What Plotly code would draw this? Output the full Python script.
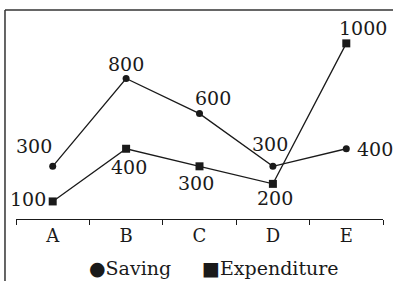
import plotly.graph_objects as go

categories = ["A", "B", "C", "D", "E"]
saving = [300, 800, 600, 300, 400]
expenditure = [100, 400, 300, 200, 1000]

# label offsets from each point, in pixels (dx right, dy down)
saving_off = [(-19, -20), (0, -15), (13, -16), (-3, -22), (29, 0)]
exp_off = [(-25, -2), (3, 18), (-4, 17), (2, 14), (17, -15)]

FONT = "DejaVu Serif"
INK = "#1a1a1a"

fig = go.Figure()
fig.add_trace(go.Scatter(
    x=categories, y=saving, mode="lines+markers", name="Saving",
    line=dict(color=INK, width=1.3),
    marker=dict(symbol="circle", size=7, color=INK),
    cliponaxis=False,
))
fig.add_trace(go.Scatter(
    x=categories, y=expenditure, mode="lines+markers", name="Expenditure",
    line=dict(color=INK, width=1.3),
    marker=dict(symbol="square", size=8, color=INK),
    cliponaxis=False,
))

annotations = []
for series, offs in ((saving, saving_off), (expenditure, exp_off)):
    for c, v, (dx, dy) in zip(categories, series, offs):
        annotations.append(dict(
            x=c, y=v, xref="x", yref="y", text=str(v), showarrow=False,
            xanchor="center", yanchor="middle", xshift=dx, yshift=-dy,
            font=dict(family=FONT, size=19, color=INK),
        ))

annotations += [
    dict(xref="paper", yref="paper", x=0.1935, y=-0.234, xanchor="left", yanchor="middle",
         text="●Saving", showarrow=False, font=dict(family=FONT, size=19, color=INK)),
    dict(xref="paper", yref="paper", x=0.5014, y=-0.234, xanchor="left", yanchor="middle",
         text="■Expenditure", showarrow=False, font=dict(family=FONT, size=19, color=INK)),
]

fig.update_layout(
    width=393, height=281,
    margin=dict(l=16, r=10, t=10, b=62),
    paper_bgcolor="white", plot_bgcolor="white",
    showlegend=False,
    font=dict(family=FONT, size=18, color=INK),
    xaxis=dict(
        type="category", categoryorder="array", categoryarray=categories,
        range=[-0.5, 4.5], showline=True, linecolor=INK, linewidth=1.3,
        ticks="outside", tickson="boundaries", ticklen=5, tickcolor=INK, tickwidth=1.3,
        showgrid=False, zeroline=False,
        tickfont=dict(family=FONT, size=18, color=INK),
    ),
    yaxis=dict(range=[0, 1190], visible=False, showgrid=False, zeroline=False),
    shapes=[
        dict(type="line", xref="paper", yref="paper", x0=-0.030, x1=1.03, y0=1.0, y1=1.0,
             line=dict(color="#333", width=1.5)),
        dict(type="line", xref="paper", yref="paper", x0=-0.030, x1=-0.030, y0=1.0, y1=-0.32,
             line=dict(color="#333", width=1.5)),
    ],
    annotations=annotations,
)

fig.write_html(
    "out.html",
    config={"displayModeBar": False},
    post_script="document.body.style.margin='0';document.body.style.overflow='hidden';",
)
